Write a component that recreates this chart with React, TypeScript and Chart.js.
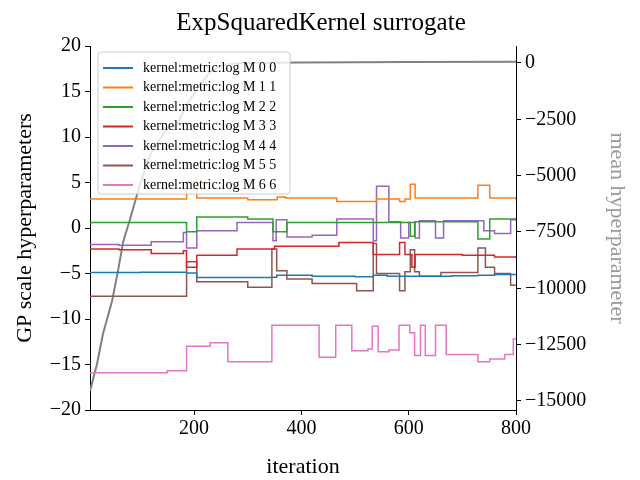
import React, { useEffect, useRef } from 'react';
import { Chart, registerables } from 'chart.js';

Chart.register(...registerables);

// step breakpoints (value holds until next breakpoint)
const m0Iter = [6, 100, 186, 205, 345, 354, 420, 500, 534, 560, 620, 680, 729, 760, 800];
const m0Vals = [-4.9, -4.85, -4.95, -5.45, -5.4, -5.2, -5.3, -5.35, -5.2, -5.3, -5.3, -5.25, -5.2, -5.1, -5.1];

const m1Iter = [6, 186, 205, 300, 355, 370, 466, 540, 583, 593, 603, 612, 729, 751, 800];
const m1Vals = [3.2, 5.1, 3.3, 3.1, 3.4, 3.3, 2.9, 3.2, 2.9, 3.2, 4.8, 3.3, 4.7, 3.3, 3.1];

const m2Iter = [6, 186, 205, 300, 347, 373, 480, 603, 611, 729, 751, 800];
const m2Vals = [0.6, -0.4, 1.2, 1.0, -0.4, 0.6, 0.6, -0.9, 0.7, -1.2, 1.0, 1.1];

const m3Iter = [6, 60, 120, 180, 186, 205, 280, 350, 470, 534, 583, 593, 606, 612, 700, 760, 800];
const m3Vals = [-2.3, -2.4, -2.8, -2.5, -4.3, -3.0, -2.3, -2.0, -1.6, -2.9, -1.6, -2.9, -4.3, -2.9, -3.0, -3.2, -3.3];

const m4Iter = [6, 60, 120, 180, 186, 205, 280, 347, 353, 373, 420, 466, 534, 540, 563, 585, 600, 612, 620, 650, 665, 740, 760, 790, 800];
const m4Vals = [-1.8, -1.9, -1.5, -0.5, -2.2, -0.3, 0.6, -1.4, 0.9, -1.0, -0.8, 1.0, -1.4, 4.6, 0.7, -1.1, 0.6, -1.1, 0.8, -1.1, 0.8, -0.3, -0.6, 0.9, 0.9];

const m5Iter = [6, 186, 205, 300, 345, 354, 373, 420, 503, 534, 540, 583, 593, 603, 611, 620, 660, 729, 743, 760, 790, 800];
const m5Vals = [-7.5, -3.7, -5.9, -6.5, -2.3, -4.7, -5.6, -6.1, -6.9, -1.7, -5.0, -6.9, -4.8, -2.4, -4.8, -5.3, -4.9, -2.2, -4.3, -5.0, -6.3, -6.3];

const m6Iter = [6, 150, 186, 230, 263, 345, 433, 464, 494, 524, 532, 543, 563, 582, 602, 611, 622, 631, 650, 670, 729, 751, 779, 795, 800];
const m6Vals = [-15.9, -15.7, -13.0, -12.6, -14.7, -10.7, -14.2, -10.7, -13.5, -13.3, -10.8, -13.6, -13.4, -10.7, -11.5, -14.0, -10.7, -14.0, -10.7, -13.9, -14.7, -14.4, -13.9, -12.2, -12.2];

const meanIter = [6, 19, 30, 47, 58, 68, 81, 99, 118, 149, 168, 186, 211, 230, 254, 286, 400, 600, 800];
const meanVals = [-14560, -13370, -12040, -10580, -9250, -7920, -6900, -5400, -4070, -2920, -2750, -1860, -980, -400, -90, 0, 20, 40, 50];

const labels = [
  'kernel:metric:log M 0 0', 'kernel:metric:log M 1 1', 'kernel:metric:log M 2 2',
  'kernel:metric:log M 3 3', 'kernel:metric:log M 4 4', 'kernel:metric:log M 5 5',
  'kernel:metric:log M 6 6',
];
const colors = ['#1f77b4', '#ff7f0e', '#2ca02c', '#d62728', '#9467bd', '#8c564b', '#e377c2'];
const series = [[m0Iter, m0Vals], [m1Iter, m1Vals], [m2Iter, m2Vals], [m3Iter, m3Vals], [m4Iter, m4Vals], [m5Iter, m5Vals], [m6Iter, m6Vals]];

const FONT = '"Liberation Serif", "DejaVu Serif", serif';
const minus = (v: number) => String(v).replace('-', '\u2212');

const legendPlugin = {
  id: 'insideLegend',
  afterDatasetsDraw(chart: any) {
    const { ctx, chartArea } = chart;
    const x0 = chartArea.left + 8, y0 = chartArea.top + 6;
    ctx.save();
    ctx.fillStyle = 'rgba(255,255,255,0.8)';
    ctx.strokeStyle = '#cccccc';
    ctx.lineWidth = 1;
    ctx.beginPath();
    ctx.roundRect(x0, y0, 192, 142, 3);
    ctx.fill();
    ctx.stroke();
    ctx.font = `14px ${FONT}`;
    ctx.textBaseline = 'middle';
    labels.forEach((l, i) => {
      const y = y0 + 16 + i * 19.5;
      ctx.strokeStyle = colors[i];
      ctx.lineWidth = 2;
      ctx.beginPath();
      ctx.moveTo(x0 + 5, y);
      ctx.lineTo(x0 + 35, y);
      ctx.stroke();
      ctx.fillStyle = '#000';
      ctx.fillText(l, x0 + 45, y);
    });
    ctx.restore();
  },
};

export default function App() {
  const canvas = useRef<HTMLCanvasElement | null>(null);

  useEffect(() => {
    document.body.style.margin = '0';
    if (!canvas.current) return;
    const datasets: any[] = series.map(([it, v], i) => ({
      label: labels[i],
      data: it.map((x, j) => ({ x, y: v[j] })),
      borderColor: colors[i],
      borderWidth: 1.5,
      pointRadius: 0,
      stepped: 'before',
      yAxisID: 'y',
    }));
    datasets.push({
      label: 'mean',
      data: meanIter.map((x, j) => ({ x, y: meanVals[j] })),
      borderColor: '#808080',
      borderWidth: 2,
      pointRadius: 0,
      yAxisID: 'y2',
    });

    const chart = new Chart(canvas.current, {
      type: 'line',
      data: { datasets },
      plugins: [legendPlugin],
      options: {
        animation: false,
        responsive: false,
        layout: { padding: { top: 0, bottom: 0, left: 12, right: 10 } },
        plugins: {
          legend: { display: false },
          tooltip: { enabled: false },
          title: {
            display: true,
            text: 'ExpSquaredKernel surrogate',
            color: '#000',
            font: { family: FONT, size: 25, weight: 'normal' },
            padding: { top: 8, bottom: 8 },
          },
        },
        scales: {
          x: {
            type: 'linear',
            min: 6,
            max: 800,
            afterBuildTicks: (s: any) => { s.ticks = [200, 400, 600, 800].map((value) => ({ value })); },
            afterFit: (s: any) => { s.height = 70; },
            grid: { drawOnChartArea: false, color: '#000', tickLength: 5 },
            border: { color: '#000' },
            ticks: { color: '#000', font: { family: FONT, size: 20 }, padding: 2 },
            title: { display: true, text: 'iteration', color: '#000', font: { family: FONT, size: 22 }, padding: 0 },
          },
          y: {
            position: 'left',
            min: -20,
            max: 20,
            afterBuildTicks: (s: any) => { s.ticks = [-20, -15, -10, -5, 0, 5, 10, 15, 20].map((value) => ({ value })); },
            afterFit: (s: any) => { s.width = 78; },
            grid: { drawOnChartArea: false, color: '#000', tickLength: 5 },
            border: { color: '#000' },
            ticks: { color: '#000', font: { family: FONT, size: 20 }, padding: 4, callback: (v: any) => minus(v) },
            title: { display: true, text: 'GP scale hyperparameters', color: '#000', font: { family: FONT, size: 22 }, padding: 0 },
          },
          y2: {
            position: 'right',
            min: -15400,
            max: 750,
            afterBuildTicks: (s: any) => { s.ticks = [-15000, -12500, -10000, -7500, -5000, -2500, 0].map((value) => ({ value })); },
            afterFit: (s: any) => { s.width = 114; },
            grid: { drawOnChartArea: false, color: '#000', tickLength: 5 },
            border: { color: '#000' },
            ticks: { color: '#000', font: { family: FONT, size: 20 }, padding: 4, callback: (v: any) => minus(v) },
            title: { display: true, text: 'mean hyperparameter', color: '#999999', font: { family: FONT, size: 22 }, padding: 0 },
          },
        },
      },
    });
    return () => chart.destroy();
  }, []);

  return <canvas ref={canvas} width={640} height={480} style={{ display: 'block' }} />;
}
